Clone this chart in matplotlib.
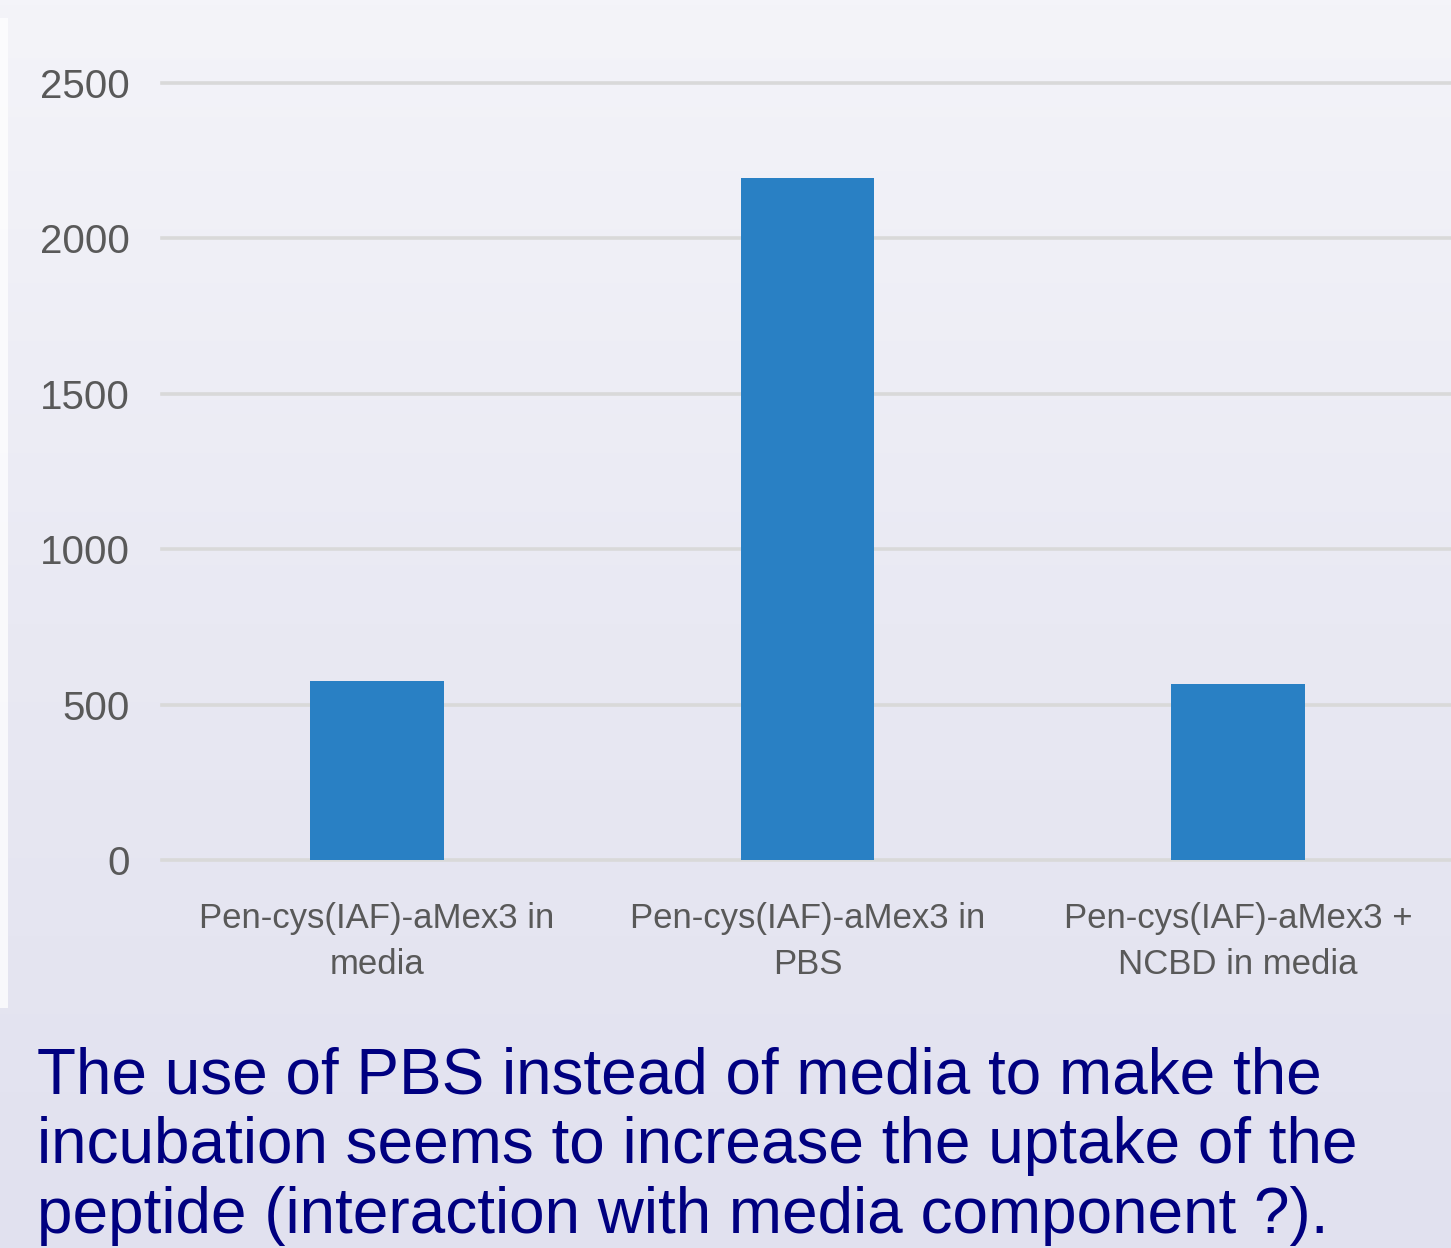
import matplotlib
matplotlib.use("Agg")
import matplotlib.pyplot as plt
import numpy as np
from matplotlib.colors import LinearSegmentedColormap
from matplotlib.patches import Rectangle

# 数据
categories = ["Pen-cys(IAF)-aMex3 in\nmedia",
              "Pen-cys(IAF)-aMex3 in\nPBS",
              "Pen-cys(IAF)-aMex3 +\nNCBD in media"]
uptake = [576, 2195, 566]
y_ticks = [0, 500, 1000, 1500, 2000, 2500]

caption_lines = ["The use of PBS instead of media to make the",
                 "incubation seems to increase the uptake of the",
                 "peptide (interaction with media component ?)."]

W, H = 1451, 1248
plt.rcParams['font.family'] = ['Liberation Sans', 'DejaVu Sans']

fig = plt.figure(figsize=(W / 100, H / 100), dpi=100)

# 背景渐变
bg = fig.add_axes([0, 0, 1, 1], zorder=0)
grad = np.linspace(0, 1, 256).reshape(-1, 1)
cmap = LinearSegmentedColormap.from_list("bg", ["#f4f4f9", "#e9e9f3", "#e1e1ef"])
bg.imshow(grad, aspect="auto", cmap=cmap, extent=[0, W, H, 0])
bg.add_patch(Rectangle((0, 18), 8, 990, color="white", alpha=0.75, lw=0))
bg.set_xlim(0, W)
bg.set_ylim(H, 0)
bg.axis("off")

# 柱状图
x0, x1 = 161.5, 1453.5
y0, y1 = 860, 83
ax = fig.add_axes([x0 / W, (H - y0) / H, (x1 - x0) / W, (y0 - y1) / H], zorder=1)
ax.patch.set_alpha(0)
x = np.arange(len(categories))
for t in y_ticks:
    ax.axhline(t, color="#d9d9d9", lw=2.6, zorder=1, clip_on=False)
ax.bar(x, uptake, width=0.31, color="#2980c4", zorder=2)
ax.set_xlim(-0.5, 2.5)
ax.set_ylim(0, 2500)
ax.set_yticks(y_ticks)
ax.set_yticklabels([str(t) for t in y_ticks], fontsize=29, color="#595959")
ax.set_xticks(x)
ax.set_xticklabels(categories, fontsize=25, color="#595959", linespacing=1.5)
ax.tick_params(axis="y", length=0, pad=23)
ax.tick_params(axis="x", length=0, pad=30)
for s in ax.spines.values():
    s.set_visible(False)

# 说明文字
for i, line in enumerate(caption_lines):
    fig.text(37 / W, 1 - (1093 + 70 * i) / H, line, fontsize=46,
             color="#000080", ha="left", va="baseline")

fig.savefig("out.png", dpi=100)
